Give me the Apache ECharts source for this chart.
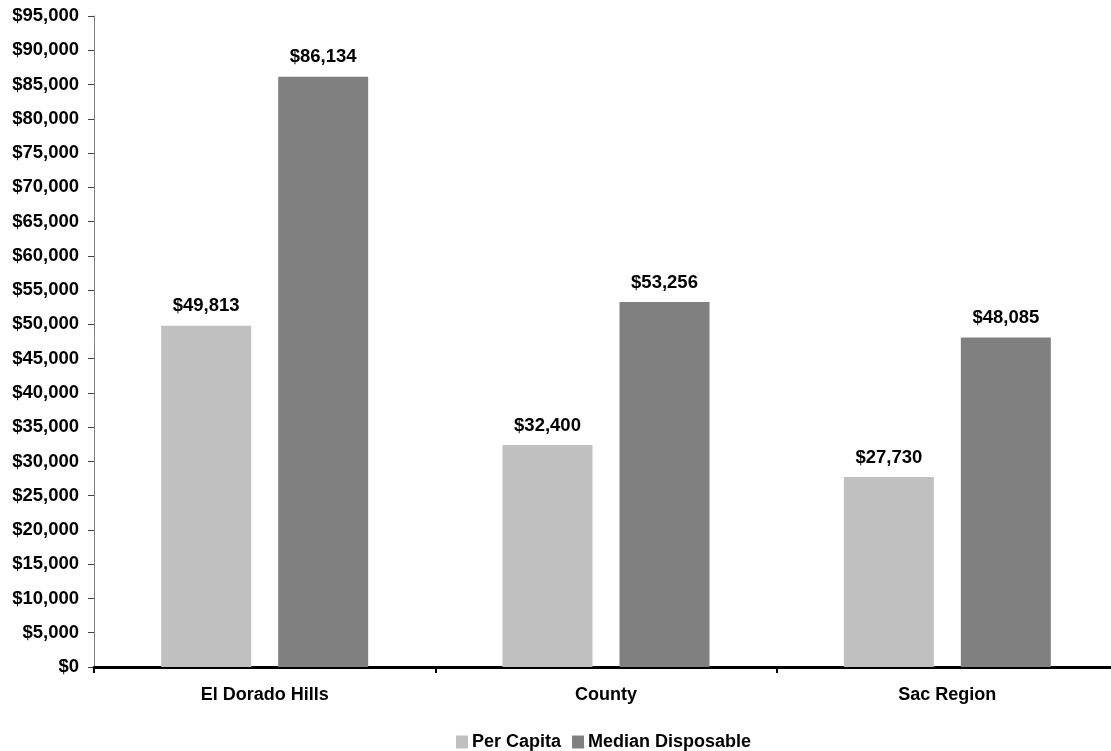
<!DOCTYPE html>
<html>
<head>
<meta charset="utf-8">
<script src="https://cdn.jsdelivr.net/npm/echarts@6/dist/echarts.min.js"></script>
<style>
html,body{margin:0;padding:0;background:#fff;}
#chart{width:1111px;height:751px;}
</style>
</head>
<body>
<div id="chart"></div>
<script>
const categories = ["El Dorado Hills", "County", "Sac Region"];
const perCapita = [49813, 32400, 27730];
const medianDisposable = [86134, 53256, 48085];
const seriesNames = ["Per Capita", "Median Disposable"];
const yMin = 0, yMax = 95000, yInterval = 5000;

const fmt = v => "$" + Number(v).toLocaleString("en-US");
const font = "'Liberation Sans', Arial, sans-serif";

const chart = echarts.init(document.getElementById("chart"), null, {renderer: "canvas"});
chart.setOption({
  animation: false,
  backgroundColor: "#ffffff",
  textStyle: {fontFamily: font},
  grid: {left: 94, width: 1024, top: 16, height: 651, containLabel: false, outerBoundsMode: "none"},
  legend: {
    data: seriesNames,
    left: 456,
    top: 733,
    padding: 0,
    itemWidth: 12,
    itemHeight: 13,
    itemGap: 11,
    icon: "rect",
    textStyle: {fontFamily: font, fontSize: 18, fontWeight: "bold", color: "#000", padding: [0, 0, 0, -1]}
  },
  xAxis: {
    type: "category",
    data: categories,
    boundaryGap: true,
    axisLine: {show: true, lineStyle: {color: "#000", width: 3}},
    axisTick: {show: true, length: 6, lineStyle: {color: "#000", width: 2}},
    axisLabel: {fontFamily: font, fontSize: 18, fontWeight: "bold", color: "#000", margin: 19}
  },
  yAxis: {
    type: "value",
    min: yMin, max: yMax, interval: yInterval,
    splitLine: {show: false},
    axisLine: {show: true, lineStyle: {color: "#808080", width: 1}},
    axisTick: {show: true, length: 6, lineStyle: {color: "#404040", width: 1}},
    axisLabel: {fontFamily: font, fontSize: 18.5, fontWeight: "bold", color: "#000", margin: 15, formatter: fmt}
  },
  series: [
    {
      name: seriesNames[0], type: "bar", data: perCapita,
      barWidth: 90, barGap: "30%",
      itemStyle: {color: "#C0C0C0"},
      label: {show: true, position: "top", distance: 10, formatter: p => fmt(p.value),
        fontFamily: font, fontSize: 18.5, fontWeight: "bold", color: "#000"}
    },
    {
      name: seriesNames[1], type: "bar", data: medianDisposable,
      barWidth: 90, barGap: "30%",
      itemStyle: {color: "#808080"},
      label: {show: true, position: "top", distance: 10, formatter: p => fmt(p.value),
        fontFamily: font, fontSize: 18.5, fontWeight: "bold", color: "#000"}
    }
  ]
});
</script>
</body>
</html>
